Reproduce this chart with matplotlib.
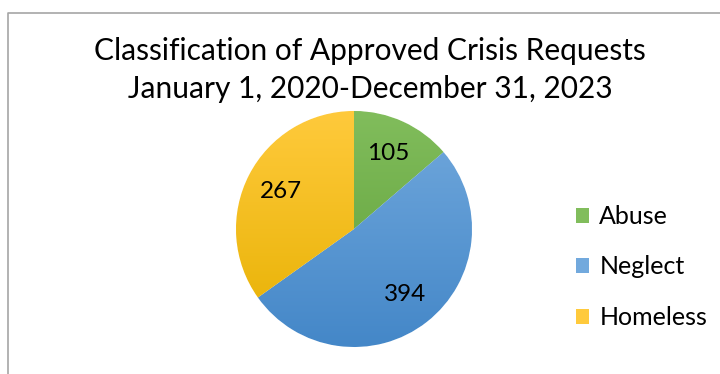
import numpy as np
import matplotlib.pyplot as plt
from matplotlib.patches import Patch
from matplotlib.colors import LinearSegmentedColormap

categories = ["Abuse", "Neglect", "Homeless"]
values = [105, 394, 267]
# (top colour, bottom colour) of each slice's gradient
colors_top = ["#81bd5c", "#72a9dd", "#ffca3c"]
colors_bot = ["#5e9e37", "#4487c8", "#e6b000"]
title = "Classification of Approved Crisis Requests\nJanuary 1, 2020-December 31, 2023"

plt.rcParams["font.family"] = ["Lato", "DejaVu Sans"]

fig = plt.figure(figsize=(7.2, 3.74), dpi=100)
ax = fig.add_axes([0, 0, 1, 1])

cx, cy, r = 354, 374 - 229, 118
wedges, texts, autotexts = ax.pie(
    values, startangle=90, counterclock=False, center=(cx, cy), radius=r,
    colors=colors_top, autopct=lambda p: f"{round(p * sum(values) / 100):d}",
    pctdistance=0.7, textprops=dict(fontsize=17.5, color="black"),
    wedgeprops=dict(linewidth=0.8, edgecolor="white"), frame=True)
ax.set_xlim(0, 720)
ax.set_ylim(0, 374)
ax.set_aspect("equal")
ax.axis("off")

# vertical gradient fill per slice
grad = np.linspace(0, 1, 256).reshape(-1, 1)
for w, ct, cb in zip(wedges, colors_top, colors_bot):
    cmap = LinearSegmentedColormap.from_list("g", [cb, ct])
    im = ax.imshow(grad, cmap=cmap, origin="lower", aspect="auto",
                   extent=(cx - r, cx + r, cy - r, cy + r), zorder=1.5)
    im.set_clip_path(w)

ax.text(370, 374 - 70, title, ha="center", va="center", fontsize=21.5,
        linespacing=1.45)

handles = [Patch(facecolor=c) for c in colors_top]
ax.legend(handles, categories, loc="center left", bbox_to_anchor=(553 / 720, 1 - 267 / 374),
          bbox_transform=fig.transFigure, frameon=False, fontsize=18,
          handlelength=0.55, handleheight=0.55, handletextpad=0.4, labelspacing=1.1)

# chart border (cropped on the right and bottom)
ax.plot([8, 8, 720], [0, 374 - 13, 374 - 13], color="#a6a6a6", lw=1.2)

fig.savefig("out.png", dpi=100)
